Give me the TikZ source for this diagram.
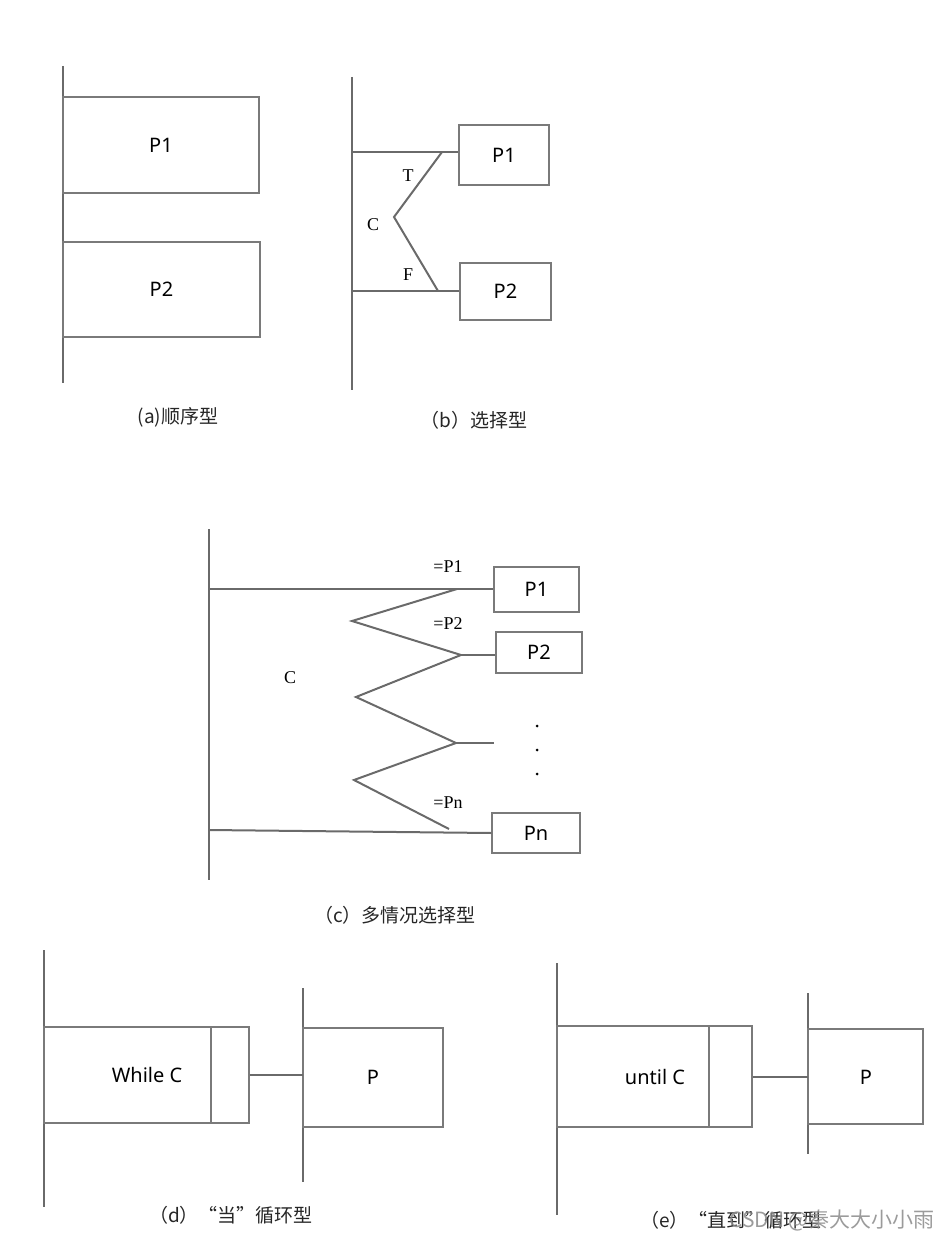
\documentclass[tikz,border=0pt]{standalone}
\usepackage{fontspec}
\setmainfont{Liberation Serif}
\setsansfont{Noto Sans}
\newfontfamily\cjkfont{Noto Sans CJK SC}
\usetikzlibrary{positioning, fit}
\definecolor{linegray}{HTML}{6A6A6A}
\definecolor{boxgray}{HTML}{7A7A7A}
\definecolor{marktext}{HTML}{8A8A8A}

\begin{document}
\begin{tikzpicture}[
  x=0.5pt, y=-0.5pt,
  every node/.style={text=black},
  bus/.style={draw=linegray, line width=1pt},
  branch/.style={draw=linegray, line width=1pt},
  procbox/.style={
    draw=boxgray,
    line width=0.75pt,
    inner sep=0pt,
  },
  proctext/.style={font=\sffamily\fontsize{10}{12}\selectfont},
  condlabel/.style={font=\fontsize{9}{11}\selectfont},
  caption/.style={font=\cjkfont\fontsize{9.5}{12}\selectfont, text=black!85},
]
  \useasboundingbox (0,0) rectangle (945,1240);

  % (a) sequence
  \coordinate (a top) at (63,66);
  \coordinate (a bot) at (63,383);
  \draw[bus] (a top) -- (a bot);
  \node[procbox, fit={(63,97) (259,193)}] (a p1) {};
  \node[proctext] at (a p1.center) {P1};
  \node[procbox, fit={(63,242) (260,337)}] (a p2) {};
  \node[proctext] at (a p2.center) {P2};
  \node[caption] (a cap) at (178,417) {(a)顺序型};

  % (b) selection
  \coordinate (b top) at (352,77);
  \coordinate (b bot) at (352,390);
  \draw[bus] (b top) -- (b bot);
  \node[procbox, fit={(459,125) (549,185)}] (b p1) {};
  \node[proctext] at (b p1.center) {P1};
  \node[procbox, fit={(460,263) (551,320)}] (b p2) {};
  \node[proctext] at (b p2.center) {P2};
  \coordinate (b t) at (442,152);
  \coordinate (b v) at (394,217);
  \coordinate (b f) at (438,291);
  \draw[branch] (b top |- b t) -- (b t) -- (b p1.west |- b t);
  \draw[branch] (b top |- b f) -- (b f) -- (b p2.west |- b f);
  \draw[branch] (b t) -- (b v) -- (b f);
  \node[condlabel] (b tl) at (408,176) {T};
  \node[condlabel] (b cl) at (373,225) {C};
  \node[condlabel] (b fl) at (408,275) {F};
  \node[caption] (b cap) at (474,420) {（b）选择型};

  % (c) multiple selection
  \coordinate (c top) at (209,529);
  \coordinate (c bot) at (209,880);
  \draw[bus] (c top) -- (c bot);
  \node[procbox, fit={(494,567) (579,612)}] (c p1) {};
  \node[proctext] at (c p1.center) {P1};
  \node[procbox, fit={(496,632) (582,673)}] (c p2) {};
  \node[proctext] at (c p2.center) {P2};
  \node[procbox, fit={(492,813) (580,853)}] (c pn) {};
  \node[proctext] at (c pn.center) {Pn};
  \coordinate (z0) at (457,589);
  \coordinate (z1) at (352,621);
  \coordinate (z2) at (461,655);
  \coordinate (z3) at (356,697);
  \coordinate (z4) at (456,743);
  \coordinate (z5) at (354,780);
  \coordinate (z6) at (449,829);
  \coordinate (c open) at (494,743);
  \draw[branch] (c top |- z0) -- (z0) -- (c p1.west |- z0);
  \draw[branch] (z0) -- (z1) -- (z2) -- (z3) -- (z4) -- (z5) -- (z6);
  \draw[branch] (z2) -- (c p2.west |- z2);
  \draw[branch] (z4) -- (c open);
  \draw[branch] (209,830) -- (c pn.west);
  \foreach \y in {726,750,774}
    \fill (537,\y) circle (1.5);
  \node[condlabel] (c cl) at (290,678) {C};
  \node[condlabel] (c l1) at (448,567) {=P1};
  \node[condlabel] (c l2) at (448,624) {=P2};
  \node[condlabel] (c ln) at (448,803) {=Pn};
  \node[caption] (c cap) at (395,915) {（c）多情况选择型};

  % (d) while loop
  \coordinate (d top) at (44,950);
  \coordinate (d bot) at (44,1207);
  \draw[bus] (d top) -- (d bot);
  \node[procbox, fit={(44,1027) (249,1123)}] (d cond) {};
  \draw[procbox] (211,1027) -- (211,1123);
  \node[proctext] (d ctext) at (147,1075) {While C};
  \coordinate (d top2) at (303,988);
  \coordinate (d bot2) at (303,1182);
  \draw[bus] (d top2) -- (d bot2);
  \node[procbox, fit={(303,1028) (443,1127)}] (d body) {};
  \node[proctext] at (373,1077) {P};
  \draw[branch] (d cond.east) -- (d top2 |- d cond.east);
  \node[caption] (d cap) at (231,1215) {（d）“当”循环型};

  % (e) until loop
  \coordinate (e top) at (557,963);
  \coordinate (e bot) at (557,1215);
  \draw[bus] (e top) -- (e bot);
  \node[procbox, fit={(557,1026) (752,1127)}] (e cond) {};
  \draw[procbox] (709,1026) -- (709,1127);
  \node[proctext] (e ctext) at (655,1077) {until C};
  \coordinate (e top2) at (808,993);
  \coordinate (e bot2) at (808,1154);
  \draw[bus] (e top2) -- (e bot2);
  \node[procbox, fit={(808,1029) (923,1124)}] (e body) {};
  \node[proctext] at (866,1077) {P};
  \draw[branch] (e cond.east) -- (e top2 |- e cond.east);
  \node[caption, anchor=west] (e cap) at (633,1220) {（e）“直到”循环型};
  \node[font=\cjkfont\fontsize{10.5}{12}\selectfont, text=marktext, opacity=0.85] (mark) at (832,1220) {CSDN @秦大大小小雨};
\end{tikzpicture}
\end{document}
